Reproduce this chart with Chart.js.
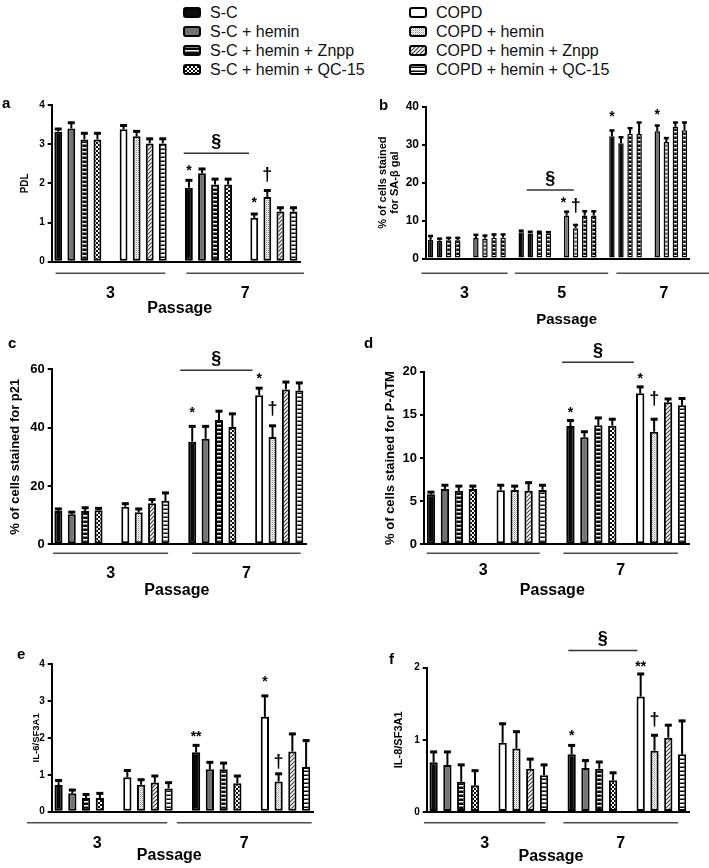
<!DOCTYPE html>
<html>
<head>
<meta charset="utf-8">
<script src="https://cdn.jsdelivr.net/npm/chart.js@4.4.0/dist/chart.umd.min.js"></script>
<style>
  body { margin: 0; background: #fff; width: 709px; height: 868px; position: relative; overflow: hidden;
         font-family: 'Liberation Sans', Arial, sans-serif; }
  canvas.panel { position: absolute; }
  .item { position: absolute; height: 19px; line-height: 19px; font-size: 16px; color: #111; white-space: nowrap; }
  .item canvas { position: absolute; left: 0; top: 4px; }
  .item span { position: absolute; left: 27px; top: 0; }
</style>
</head>
<body>
<div id="legend"></div>
<canvas id="pa" class="panel"></canvas>
<canvas id="pb" class="panel"></canvas>
<canvas id="pc" class="panel"></canvas>
<canvas id="pd" class="panel"></canvas>
<canvas id="pe" class="panel"></canvas>
<canvas id="pf" class="panel"></canvas>
<script>
// ---- data ----
const conditions = ['S-C', 'S-C + hemin', 'S-C + hemin + Znpp', 'S-C + hemin + QC-15',
                    'COPD', 'COPD + hemin', 'COPD + hemin + Znpp', 'COPD + hemin + QC-15'];
const passages = ['3', '7'];
const passagesB = ['3', '5', '7'];

// a: PDL
const pdlP3 = [3.32, 3.40, 3.12, 3.12, 3.38, 3.20, 3.02, 3.02];
const pdlP3Sem = [0.08, 0.16, 0.17, 0.17, 0.11, 0.14, 0.13, 0.13];
const pdlP7 = [1.89, 2.26, 1.97, 1.97, 1.12, 1.65, 1.28, 1.28];
const pdlP7Sem = [0.20, 0.12, 0.15, 0.15, 0.11, 0.18, 0.11, 0.11];

// b: % SA-beta gal
const sabP3 = [4.9, 4.7, 4.8, 4.8, 5.4, 5.3, 5.5, 5.5];
const sabP3Sem = [1.1, 0.6, 0.7, 0.7, 0.9, 0.8, 0.9, 0.9];
const sabP5 = [6.9, 6.6, 6.7, 6.6, 11.3, 8.0, 11.3, 11.3];
const sabP5Sem = [0.5, 0.5, 0.4, 0.4, 1.1, 0.9, 1.2, 1.2];
const sabP7 = [32.2, 30.4, 32.9, 32.8, 33.5, 30.7, 34.7, 33.8];
const sabP7Sem = [1.6, 1.6, 1.5, 3.1, 1.6, 1.1, 1.2, 2.1];

// c: % p21
const p21P3 = [11.4, 10.3, 11.4, 11.7, 12.9, 11.0, 14.1, 14.9];
const p21P3Sem = [0.9, 0.9, 1.3, 0.8, 1.2, 1.3, 1.4, 2.9];
const p21P7 = [35.2, 36.2, 42.6, 40.2, 51.1, 36.8, 53.1, 52.7];
const p21P7Sem = [5.4, 4.4, 3.2, 4.7, 2.6, 4.0, 2.7, 2.8];

// d: % P-ATM
const atmP3 = [5.8, 6.4, 6.2, 6.4, 6.25, 6.3, 6.2, 6.3];
const atmP3Sem = [0.3, 0.5, 0.6, 0.4, 0.65, 0.5, 1.0, 0.6];
const atmP7 = [13.7, 12.4, 13.8, 13.75, 17.5, 13.05, 16.45, 16.1];
const atmP7Sem = [0.7, 0.7, 0.9, 0.8, 0.8, 1.5, 0.45, 0.85];

// e: IL-6/SF3A1
const il6P3 = [0.72, 0.50, 0.37, 0.37, 0.93, 0.73, 0.79, 0.63];
const il6P3Sem = [0.14, 0.10, 0.11, 0.14, 0.20, 0.15, 0.19, 0.17];
const il6P7 = [1.61, 1.15, 1.15, 0.77, 2.57, 0.82, 1.63, 1.21];
const il6P7Sem = [0.20, 0.20, 0.18, 0.21, 0.58, 0.22, 0.49, 0.73];

// f: IL-8/SF3A1
const il8P3 = [0.69, 0.65, 0.42, 0.37, 0.96, 0.88, 0.60, 0.51];
const il8P3Sem = [0.15, 0.19, 0.24, 0.21, 0.27, 0.24, 0.14, 0.15];
const il8P7 = [0.80, 0.61, 0.60, 0.44, 1.60, 0.85, 1.03, 0.80];
const il8P7Sem = [0.13, 0.11, 0.10, 0.11, 0.32, 0.22, 0.18, 0.47];

// ---- fills ----
const FONT = "'Liberation Sans', Arial, Helvetica, sans-serif";
Chart.defaults.font.family = FONT;
Chart.defaults.color = '#000';

function tile(w, h, draw) {
  const c = document.createElement('canvas');
  c.width = w; c.height = h;
  const g = c.getContext('2d');
  draw(g);
  return g.createPattern(c, 'repeat');
}
const fills = {
  black: '#0a0a0a',
  grey: '#737373',
  white: '#ffffff',
  ladder: tile(4, 4, g => { g.fillStyle = '#0a0a0a'; g.fillRect(0, 0, 4, 4); g.fillStyle = '#fff'; g.fillRect(0, 1, 4, 1.5); }),
  ladderGrey: tile(4, 4, g => { g.fillStyle = '#666'; g.fillRect(0, 0, 4, 4); g.fillStyle = '#eee'; g.fillRect(0, 1, 4, 1.5); }),
  checker: tile(4, 4, g => { g.fillStyle = '#fff'; g.fillRect(0, 0, 4, 4); g.fillStyle = '#0a0a0a'; g.fillRect(0, 0, 2, 2); g.fillRect(2, 2, 2, 2); }),
  dots: tile(2, 2, g => { g.fillStyle = '#fff'; g.fillRect(0, 0, 2, 2); g.fillStyle = '#8c8c8c'; g.fillRect(0, 0, 1, 1); g.fillStyle = '#c8c8c8'; g.fillRect(1, 1, 1, 1); }),
  hatch: tile(4, 4, g => {
    g.fillStyle = '#fff'; g.fillRect(0, 0, 4, 4);
    g.strokeStyle = '#3a3a3a'; g.lineWidth = 1.1;
    g.beginPath(); g.moveTo(0, 4); g.lineTo(4, 0); g.moveTo(-1, 1); g.lineTo(1, -1); g.moveTo(3, 5); g.lineTo(5, 3); g.stroke();
  }),
  grid: tile(4, 4, g => { g.fillStyle = '#fff'; g.fillRect(0, 0, 4, 4); g.fillStyle = '#0a0a0a'; g.fillRect(0, 2.5, 4, 1.5); })
};
const condFills = ['black', 'grey', 'ladder', 'checker', 'white', 'dots', 'hatch', 'grid'];
const condFillsB = ['black', 'black', 'ladder', 'ladder', 'grey', 'ladderGrey', 'ladder', 'ladder'];

// ---- legend ----
const legend = document.getElementById('legend');
conditions.forEach((name, c) => {
  const col = c < 4 ? 0 : 1, row = c % 4;
  const item = document.createElement('div');
  item.className = 'item';
  item.style.left = (col ? 409 : 183) + 'px';
  item.style.top = (2.5 + row * 19.2) + 'px';
  const sw = document.createElement('canvas');
  sw.width = 18; sw.height = 11;
  const g = sw.getContext('2d');
  g.beginPath(); g.roundRect(1, 1, 16, 9, 2);
  g.fillStyle = fills[condFills[c]]; g.fill();
  g.lineWidth = 2; g.strokeStyle = '#000'; g.stroke();
  const label = document.createElement('span');
  label.textContent = name;
  item.appendChild(sw); item.appendChild(label);
  legend.appendChild(item);
});

// ---- panels ----
function slotIndex(p, c) { return p * 10 + (c < 4 ? c : c + 1); }

function textCentered(ctx, text, x, cy) {
  const m = ctx.measureText(text);
  ctx.fillText(text, x, cy + (m.actualBoundingBoxAscent - m.actualBoundingBoxDescent) / 2);
}

const markGap = { '*': 12, '**': 11, '†': 16 };

function decorPlugin(spec) {
  return {
    id: 'decor',
    afterDatasetsDraw(chart) {
      const { ctx, scales: { x, y } } = chart;
      ctx.save();
      ctx.strokeStyle = '#000';
      chart.data.datasets.forEach(ds => {
        ds.data.forEach((v, i) => {
          if (v == null) return;
          const cx = x.getPixelForValue(i);
          const y0 = y.getPixelForValue(v);
          const y1 = y.getPixelForValue(v + ds.errors[i]);
          ctx.lineWidth = spec.ebWidth;
          ctx.beginPath();
          ctx.moveTo(cx, y0); ctx.lineTo(cx, y1);
          ctx.stroke();
          // cap
          ctx.lineWidth = spec.capWidth;
          ctx.beginPath();
          ctx.moveTo(cx - spec.cap / 2, y1 + spec.capWidth / 2 - 1);
          ctx.lineTo(cx + spec.cap / 2, y1 + spec.capWidth / 2 - 1);
          ctx.stroke();
        });
      });
      ctx.restore();
    },
    afterDraw(chart) {
      const { ctx, scales: { x, y }, chartArea } = chart;
      ctx.save();
      ctx.fillStyle = '#000';
      ctx.textAlign = 'center';
      ctx.textBaseline = 'alphabetic';

      // significance marks
      spec.marks.forEach(m => {
        const v = spec.means[m.p][m.c] + spec.sems[m.p][m.c];
        const cx = x.getPixelForValue(slotIndex(m.p, m.c)) + (m.dx || 0);
        const cy = y.getPixelForValue(v) - (m.gap || markGap[m.t]);
        ctx.font = (m.t === '†' ? 'bold 18px ' : 'bold 14px ') + FONT;
        textCentered(ctx, m.t, cx, cy);
      });

      // section bracket
      if (spec.section) {
        const s = spec.section;
        const yy = y.getPixelForValue(s.level);
        const x0 = x.getPixelForValue(s.from), x1 = x.getPixelForValue(s.to);
        ctx.strokeStyle = '#333'; ctx.lineWidth = 1.5;
        ctx.beginPath(); ctx.moveTo(x0, yy); ctx.lineTo(x1, yy); ctx.stroke();
        ctx.font = 'bold 18px ' + FONT;
        textCentered(ctx, '§', (x0 + x1) / 2, yy - 12);
      }

      // passage group lines and labels
      const base = chartArea.bottom;
      ctx.strokeStyle = '#4a4a4a'; ctx.lineWidth = 1.5;
      spec.lines.forEach((ln, i) => {
        const x0 = x.getPixelForValue(ln[0]), x1 = x.getPixelForValue(ln[1]);
        ctx.beginPath(); ctx.moveTo(x0, base + spec.lineDy); ctx.lineTo(x1, base + spec.lineDy); ctx.stroke();
        ctx.font = 'bold 16px ' + FONT;
        textCentered(ctx, spec.passages[i], (x0 + x1) / 2, base + spec.labelDy);
      });
      const first = x.getPixelForValue(spec.lines[0][0]);
      const last = x.getPixelForValue(spec.lines[spec.lines.length - 1][1]);
      ctx.font = 'bold ' + spec.passageFont + 'px ' + FONT;
      textCentered(ctx, 'Passage', (first + last) / 2, base + spec.passageDy);

      // panel letter
      ctx.textAlign = 'left';
      ctx.font = 'bold 15px ' + FONT;
      textCentered(ctx, spec.letter, spec.letterAt[0] - spec.box[0], spec.letterAt[1] - spec.box[1]);
      ctx.restore();
    }
  };
}

function buildPanel(spec) {
  const [bx, by, bw, bh] = spec.box;
  const [pl, pt, pr, pb] = spec.plot;
  const el = document.getElementById(spec.canvas);
  el.width = bw; el.height = bh;
  el.style.left = bx + 'px'; el.style.top = by + 'px';

  const nSlots = spec.passages.length * 10 - 1;
  const labels = [];
  for (let s = 0; s < nSlots; s++) {
    const p = Math.floor(s / 10), k = s % 10;
    if (k === 4 || k === 9) labels.push('');
    else labels.push(spec.passages[p] + ' ' + conditions[k < 4 ? k : k - 1]);
  }
  const datasets = conditions.map((name, c) => {
    const data = new Array(nSlots).fill(null);
    const errors = new Array(nSlots).fill(null);
    spec.means.forEach((arr, p) => {
      data[slotIndex(p, c)] = arr[c];
      errors[slotIndex(p, c)] = spec.sems[p][c];
    });
    return {
      label: name, data, errors,
      backgroundColor: fills[spec.fills[c]],
      borderColor: '#000', borderWidth: spec.barBorder, borderSkipped: false,
      barPercentage: spec.barPct, categoryPercentage: 1, grouped: false
    };
  });

  const titleLH = spec.titleFont * 1.1;
  new Chart(el, {
    type: 'bar',
    data: { labels, datasets },
    options: {
      responsive: false, animation: false, devicePixelRatio: 1,
      layout: { padding: { left: 0, top: pt - by, right: bx + bw - pr, bottom: 0 } },
      plugins: { legend: { display: false }, tooltip: { enabled: false } },
      scales: {
        x: {
          type: 'category', offset: true,
          grid: { display: false },
          border: { display: true, color: '#000', width: 2 },
          ticks: { display: false },
          afterFit: s => { s.height = by + bh - pb; }
        },
        y: {
          min: 0, max: spec.yMax,
          ticks: { stepSize: spec.yStep, color: '#000', padding: 3,
                   font: { size: spec.tickFont, weight: 'bold' } },
          grid: { drawOnChartArea: false, drawTicks: true, tickLength: 4, color: '#000', lineWidth: 2 },
          border: { display: true, color: '#000', width: 2 },
          title: { display: true, text: spec.yTitle, color: '#000',
                   font: { size: spec.titleFont, weight: 'bold', lineHeight: 1.1 },
                   padding: { top: spec.titleX - bx - titleLH / 2, bottom: 0 } },
          afterFit: s => { s.width = pl - bx; }
        }
      }
    },
    plugins: [decorPlugin(spec)]
  });
}

const common = { fills: condFills, barPct: 0.6, barBorder: 2, ebWidth: 2, capWidth: 3, cap: 7, passageFont: 16 };

buildPanel(Object.assign({}, common, {
  canvas: 'pa', letter: 'a', letterAt: [2, 104],
  box: [0, 90, 354, 232], plot: [51.7, 105, 300, 261.7],
  yMax: 4, yStep: 1, yTitle: 'PDL', titleX: 25, titleFont: 10, tickFont: 10,
  passages, means: [pdlP3, pdlP7], sems: [pdlP3Sem, pdlP7Sem],
  marks: [{ p: 1, c: 0, t: '*' }, { p: 1, c: 4, t: '*', gap: 14 }, { p: 1, c: 5, t: '†' }],
  section: { from: 9.6, to: 14.6, level: 2.77 },
  lines: [[-0.2, 8.2], [9.8, 18.8]], lineDy: 11.6, labelDy: 30, passageDy: 46.3
}));

buildPanel(Object.assign({}, common, {
  canvas: 'pb', letter: 'b', letterAt: [379, 104], fills: condFillsB,
  box: [354, 90, 355, 240], plot: [426, 106.7, 689, 258.5],
  barBorder: 1.5, cap: 5, capWidth: 2.5, passageFont: 15,
  yMax: 40, yStep: 10, yTitle: ['% of cells stained', 'for SA-β gal'], titleX: 383, titleFont: 11, tickFont: 12,
  passages: passagesB, means: [sabP3, sabP5, sabP7], sems: [sabP3Sem, sabP5Sem, sabP7Sem],
  marks: [{ p: 2, c: 0, t: '*', gap: 16 }, { p: 2, c: 4, t: '*', gap: 13 },
          { p: 1, c: 4, t: '*', gap: 11, dx: -3 }, { p: 1, c: 5, t: '†', gap: 19 }],
  section: { from: 10.6, to: 15.8, level: 18.05 },
  lines: [[-1, 8.5], [9.3, 19.6], [20.5, 31]], lineDy: 14.8, labelDy: 33.2, passageDy: 61.5
}));

buildPanel(Object.assign({}, common, {
  canvas: 'pc', letter: 'c', letterAt: [8, 344],
  box: [0, 330, 354, 270], plot: [51.7, 369.3, 306, 544.3],
  yMax: 60, yStep: 20, yTitle: '% of cells stained for p21', titleX: 15, titleFont: 13, tickFont: 13,
  passages, means: [p21P3, p21P7], sems: [p21P3Sem, p21P7Sem],
  marks: [{ p: 1, c: 0, t: '*', gap: 16 }, { p: 1, c: 4, t: '*' }, { p: 1, c: 5, t: '†', gap: 17 }],
  section: { from: 9.1, to: 14.5, level: 59.7 },
  lines: [[-0.4, 8.2], [10, 18.1]], lineDy: 9, labelDy: 27.4, passageDy: 45.7
}));

buildPanel(Object.assign({}, common, {
  canvas: 'pd', letter: 'd', letterAt: [364, 342],
  box: [354, 330, 355, 270], plot: [424, 371.7, 689, 544.3],
  yMax: 20, yStep: 5, yTitle: '% of cells stained for P-ATM', titleX: 390.7, titleFont: 13, tickFont: 13,
  passages, means: [atmP3, atmP7], sems: [atmP3Sem, atmP7Sem],
  marks: [{ p: 1, c: 0, t: '*', gap: 10 }, { p: 1, c: 4, t: '*', gap: 10 }, { p: 1, c: 5, t: '†', gap: 20 }],
  section: { from: 9.4, to: 14.55, level: 21.1 },
  lines: [[-0.3, 7.8], [9.5, 17.7]], lineDy: 9, labelDy: 25, passageDy: 45.7
}));

buildPanel(Object.assign({}, common, {
  canvas: 'pe', letter: 'e', letterAt: [17, 655],
  box: [0, 600, 354, 268], plot: [51.7, 664, 313, 811.7],
  yMax: 4, yStep: 1, yTitle: 'IL-6/SF3A1', titleX: 36, titleFont: 9.5, tickFont: 10,
  passages, means: [il6P3, il6P7], sems: [il6P3Sem, il6P7Sem],
  marks: [{ p: 1, c: 0, t: '**' }, { p: 1, c: 4, t: '*', gap: 16 }, { p: 1, c: 5, t: '†', gap: 12 }],
  section: null,
  lines: [[-2.3, 7.9], [8.6, 18.4]], lineDy: 11, labelDy: 30, passageDy: 43.3
}));

buildPanel(Object.assign({}, common, {
  canvas: 'pf', letter: 'f', letterAt: [389, 658],
  box: [354, 600, 355, 268], plot: [426.7, 667.7, 689, 812],
  yMax: 2, yStep: 1, yTitle: 'IL-8/SF3A1', titleX: 399, titleFont: 11, tickFont: 10,
  passages, means: [il8P3, il8P7], sems: [il8P3Sem, il8P7Sem],
  marks: [{ p: 1, c: 0, t: '*' }, { p: 1, c: 4, t: '**', gap: 9.5 }, { p: 1, c: 5, t: '†', gap: 15.5 }],
  section: { from: 9.76, to: 14.76, level: 2.24 },
  lines: [[-0.7, 8.1], [9.4, 17.7]], lineDy: 10.7, labelDy: 29.7, passageDy: 44.7
}));
</script>
</body>
</html>
